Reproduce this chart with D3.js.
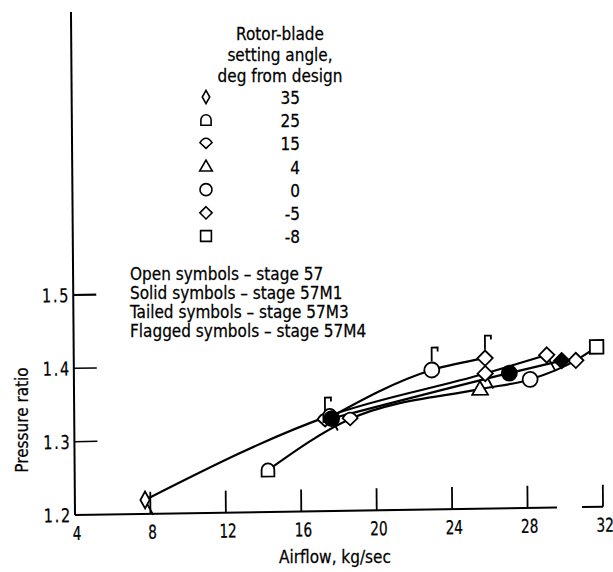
<!DOCTYPE html>
<html>
<head>
<meta charset="utf-8">
<script src="https://cdn.jsdelivr.net/npm/d3@7"></script>
<style>
  html, body { margin: 0; padding: 0; background: #fff; }
  svg { display: block; }
  text { font-family: "DejaVu Sans Condensed", "Liberation Sans Narrow", "DejaVu Sans", sans-serif; fill: #000; stroke: #000; stroke-width: 0.25; }
</style>
</head>
<body>
<svg id="chart" width="613" height="572"></svg>
<script>
// ---- data ----
const xTicks = [4, 8, 12, 16, 20, 24, 28, 32];
const yTicks = [1.2, 1.3, 1.4, 1.5];
const xAxisSegments = [[4, 29.56], [30.89, 32]];
const legendAngles = [35, 25, 15, 4, 0, -5, -8];
const legendTitle = ["Rotor-blade", "setting angle,", "deg from design"];
const legendNotes = ["Open symbols \u2013 stage 57", "Solid symbols \u2013 stage 57M1",
                     "Tailed symbols \u2013 stage 57M3", "Flagged symbols \u2013 stage 57M4"];

// airflow (kg/sec), pressure ratio, setting angle
const stage57   = [[14.25, 1.257, 25], [18.63, 1.325, 15], [25.53, 1.363, 4], [28.19, 1.375, 0], [30.62, 1.400, -5], [31.73, 1.418, -8]];
const stage57M1 = [[17.65, 1.326, 0], [27.09, 1.384, 0], [29.87, 1.400, -5]];
const stage57M3 = [[7.72, 1.219, 35], [17.55, 1.330, 25], [25.81, 1.384, -5], [29.08, 1.408, -5]];
const stage57M4 = [[17.30, 1.324, 15], [22.98, 1.390, 0], [25.81, 1.405, -5]];

const series = [
  { name: "57M4", pts: stage57M4, fill: "#fff", tail: false, flag: true },
  { name: "57M3", pts: stage57M3, fill: "#fff", tail: true,  flag: false },
  { name: "57",   pts: stage57,   fill: "#fff", tail: false, flag: false },
  { name: "57M1", pts: stage57M1, fill: "#000", tail: false, flag: false }
];

// ---- drawing ----
const svg = d3.select("#chart");
const x = d3.scaleLinear().domain([4, 32]).range([75, 603]);
const y = d3.scaleLinear().domain([1.2, 1.5]).range([515, 295]);
const yTop = y.invert(12);

// slight skew of the scanned figure
const plot = svg.append("g")
  .attr("transform", `translate(75,515) matrix(1,-0.0158,0.008,1,0,0) translate(-75,-515)`);

function symbolPath(a, s) {
  const h = s / 2;
  switch (a) {
    case 35: return `M0,${-h*1.12}L${h*0.62},0L0,${h*1.12}L${-h*0.62},0Z`;
    case 25: return `M${-h*0.85},${h*0.85}L${-h*0.85},${-h*0.05}A${h*0.85},${h*0.85} 0 0 1 ${h*0.85},${-h*0.05}L${h*0.85},${h*0.85}Z`;
    case 15: return `M${-h},${-h*0.1}L0,${h*0.85}L${h},${-h*0.1}Q${h*0.55},${-h*0.85} 0,${-h*0.85}Q${-h*0.55},${-h*0.85} ${-h},${-h*0.1}Z`;
    case 4:  return `M0,${-h*1.05}L${h*1.05},${h*0.75}L${-h*1.05},${h*0.75}Z`;
    case 0:  return `M${-h},0A${h},${h} 0 1 0 ${h},0A${h},${h} 0 1 0 ${-h},0Z`;
    case -5: return `M0,${-h*1.02}L${h*1.02},0L0,${h*1.02}L${-h*1.02},0Z`;
    case -8: return `M${-h*0.9},${-h*0.9}H${h*0.9}V${h*0.9}H${-h*0.9}Z`;
  }
}

// axes
plot.append("line")
  .attr("x1", x(4)).attr("x2", x(4)).attr("y1", y(1.2)).attr("y2", y(yTop))
  .attr("stroke", "#000").attr("stroke-width", 2);
plot.selectAll(".xseg").data(xAxisSegments).join("line")
  .attr("x1", d => x(d[0])).attr("x2", d => x(d[1]))
  .attr("y1", y(1.2)).attr("y2", y(1.2))
  .attr("stroke", "#000").attr("stroke-width", 2);
plot.selectAll(".xtick").data(xTicks.slice(1)).join("line")
  .attr("x1", d => x(d)).attr("x2", d => x(d))
  .attr("y1", y(1.2)).attr("y2", y(1.2) - 22)
  .attr("stroke", "#000").attr("stroke-width", 1.8);
plot.selectAll(".ytick").data(yTicks.slice(1)).join("line")
  .attr("x1", x(4)).attr("x2", x(4) + 23)
  .attr("y1", d => y(d)).attr("y2", d => y(d))
  .attr("stroke", "#000").attr("stroke-width", d => d === 1.5 ? 2.2 : 1.5);
plot.selectAll(".xlab").data(xTicks).join("text")
  .attr("transform", d => `translate(${x(d) + 2},${y(1.2) + 25}) scale(0.8,1)`)
  .attr("text-anchor", "middle").attr("font-size", 19)
  .text(d => d);
plot.selectAll(".ylab").data(yTicks).join("text")
  .attr("transform", d => `translate(${x(4) - 3},${y(d) + 7}) scale(0.85,1)`)
  .attr("text-anchor", "end").attr("font-size", 19).attr("letter-spacing", 2)
  .text(d => d.toFixed(1));

// curves
const line = d3.line().x(d => x(d[0])).y(d => y(d[1])).curve(d3.curveMonotoneX);
plot.selectAll(".curve").data(series).join("path")
  .attr("d", d => line(d.pts))
  .attr("fill", "none").attr("stroke", "#000").attr("stroke-width", 2.2);

// symbols
const S = 15;
series.forEach(sr => {
  const g = plot.append("g");
  sr.pts.forEach(p => {
    const cx = x(p[0]), cy = y(p[1]);
    const sg = g.append("g").attr("transform", `translate(${cx},${cy})`);
    if (sr.tail) {
      sg.append("line").attr("x1", 0).attr("y1", 0).attr("x2", 8).attr("y2", 15)
        .attr("stroke", "#000").attr("stroke-width", 1.8);
    }
    if (sr.flag) {
      const top = -S / 2 - 1;
      sg.append("path").attr("d", `M0,${top}V${top - 14}H6V${top - 10}`)
        .attr("fill", "none").attr("stroke", "#000").attr("stroke-width", 1.8);
    }
    sg.append("path").attr("d", symbolPath(p[2], S))
      .attr("fill", sr.fill).attr("stroke", "#000").attr("stroke-width", 1.8);
  });
});

// axis titles
svg.append("text").attr("transform", "translate(335,563) scale(0.92,1)")
  .attr("text-anchor", "middle").attr("font-size", 18.5).text("Airflow, kg/sec");
svg.append("text").attr("transform", "translate(28,420) rotate(-90) scale(0.92,1)")
  .attr("text-anchor", "middle").attr("font-size", 18.5).text("Pressure ratio");

// legend
const lg = svg.append("g");
lg.selectAll(".lt").data(legendTitle).join("text")
  .attr("transform", (d, i) => `translate(280,${40 + i * 21}) scale(0.92,1)`)
  .attr("text-anchor", "middle").attr("font-size", 18.5).text(d => d);
const rowY = d3.scalePoint().domain(legendAngles).range([97, 236]);
lg.selectAll(".ls").data(legendAngles).join("path")
  .attr("transform", d => `translate(206,${rowY(d)})`)
  .attr("d", d => symbolPath(d, 12))
  .attr("fill", "#fff").attr("stroke", "#000").attr("stroke-width", 1.6);
lg.selectAll(".ln").data(legendAngles).join("text")
  .attr("transform", d => `translate(300,${rowY(d) + 7}) scale(0.92,1)`)
  .attr("text-anchor", "end").attr("font-size", 18.5).text(d => d);
lg.selectAll(".note").data(legendNotes).join("text")
  .attr("transform", (d, i) => `translate(130,${280 + i * 19}) scale(0.92,1)`)
  .attr("font-size", 18.5).text(d => d);
</script>
</body>
</html>
